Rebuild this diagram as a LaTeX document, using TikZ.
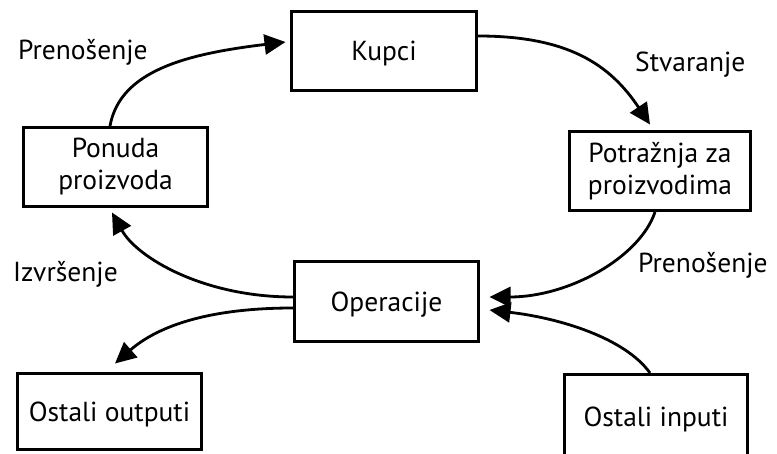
\documentclass[tikz,border=0pt]{standalone}
\usepackage{fontspec}
\setmainfont{PT Sans}
\usetikzlibrary{arrows.meta}
\begin{document}
\begin{tikzpicture}[x=1pt,y=-1pt,
  box/.style={draw, line width=3pt, inner sep=0pt, align=center,
    font=\fontsize{27.5}{32}\selectfont},
  oneline/.style={text height=20pt, text depth=0pt},
  lbl/.style={inner sep=0pt, anchor=base west, font=\fontsize{27.5}{32}\selectfont},
  flow/.style={line width=2.8pt, -{Triangle[length=21pt,width=20pt]}}]
\useasboundingbox (0,0) rectangle (777,454);
\clip (0,0) rectangle (777,454);

% boxes
\node[box, oneline, minimum width=185pt, minimum height=79pt] (kupci) at (384,51) {Kupci};
\node[box, minimum width=184pt, minimum height=79pt] (ponuda) at (115.5,167) {Ponuda\\proizvoda};
\node[box, minimum width=181pt, minimum height=79pt] (potr) at (660,171) {Potražnja za\\proizvodima};
\node[box, oneline, minimum width=184pt, minimum height=80pt] (oper) at (386.5,301.5) {Operacije};
\node[box, oneline, minimum width=184pt, minimum height=76pt] (outp) at (109.5,411.5) {Ostali outputi};
\node[box, oneline, minimum width=183pt, minimum height=85pt] (inp) at (656,417) {Ostali inputi};

% labels
\node[lbl] (l1) at (18,60) {Prenošenje};
\node[lbl] (l2) at (635,72) {Stvaranje};
\node[lbl] (l3) at (13,282) {Izvršenje};
\node[lbl] (l4) at (638,273) {Prenošenje};

% connectors
\draw[flow] ([xshift=-5.5pt]ponuda.north) .. controls +(10,-55) and +(-100,12) .. ([shift={(-4.5pt,9pt)}]kupci.west);
\draw[flow] ([yshift=15pt]kupci.east) .. controls +(90,0) and +(-40,-60) .. ([shift={(-10pt,5.5pt)}]potr.north);
\draw[flow] ([xshift=-5pt]potr.south) .. controls +(-15,45) and +(80,0) .. ([shift={(9.5pt,4.5pt)}]oper.east);
\draw[flow] ([xshift=-6pt]inp.north) .. controls +(-25,-35) and +(70,8) .. ([shift={(9.5pt,-8.5pt)}]oper.east);
\draw[flow] ([yshift=4.5pt]oper.west) .. controls +(-90,0) and +(25,45) .. ([shift={(-3.5pt,-4.5pt)}]ponuda.south);
\draw[flow] ([yshift=-6.5pt]oper.west) .. controls +(-90,0) and +(40,-35) .. ([shift={(5.5pt,8.5pt)}]outp.north);
\end{tikzpicture}
\end{document}
